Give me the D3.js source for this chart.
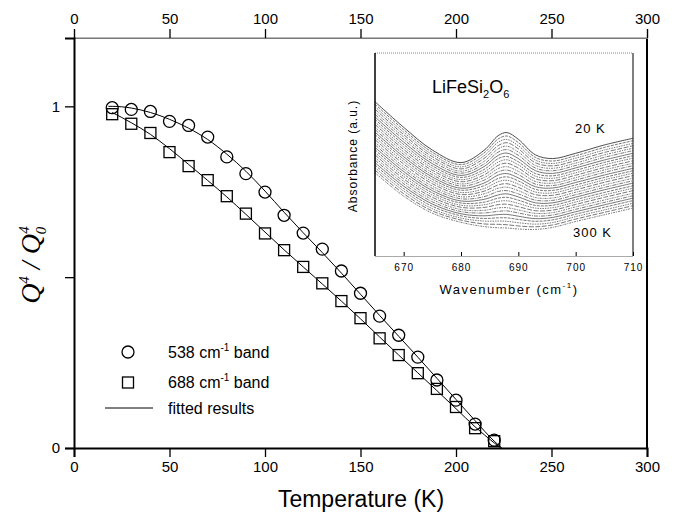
<!DOCTYPE html>
<html>
<head>
<meta charset="utf-8">
<script src="https://cdn.jsdelivr.net/npm/d3@7"></script>
<style>
  body { margin: 0; background: #fff; }
  text { font-family: "Liberation Sans", Arial, sans-serif; fill: #000; }
</style>
</head>
<body>
<svg id="chart" width="675" height="517"></svg>
<script>
// main panel data
const temps = [20, 30, 40, 50, 60, 70, 80, 90, 100, 110, 120, 130, 140, 150, 160, 170, 180, 190, 200, 210, 220];
const band538 = [0.996, 0.991, 0.985, 0.956, 0.944, 0.910, 0.852, 0.803, 0.749, 0.681, 0.629, 0.582, 0.518, 0.453, 0.386, 0.330, 0.266, 0.199, 0.140, 0.070, 0.023];
const band688 = [0.977, 0.949, 0.922, 0.866, 0.825, 0.784, 0.737, 0.686, 0.628, 0.579, 0.530, 0.482, 0.430, 0.380, 0.321, 0.272, 0.219, 0.173, 0.120, 0.058, 0.020];

const fitT538 = [18, 20, 30, 40, 50, 60, 70, 80, 90, 100, 110, 120, 130, 140, 150, 160, 170, 180, 190, 200, 210, 220, 224];
const fit538 = [1.0, 1.0, 0.995, 0.982, 0.962, 0.936, 0.903, 0.860, 0.810, 0.752, 0.690, 0.630, 0.572, 0.512, 0.450, 0.388, 0.327, 0.266, 0.204, 0.142, 0.080, 0.020, 0.0];
const fitT688 = [20, 30, 40, 50, 60, 70, 80, 90, 100, 110, 120, 130, 140, 150, 160, 170, 180, 190, 200, 210, 220, 223.5];
const fit688 = [0.982, 0.952, 0.918, 0.876, 0.830, 0.783, 0.735, 0.684, 0.632, 0.580, 0.530, 0.480, 0.430, 0.378, 0.325, 0.272, 0.220, 0.168, 0.115, 0.062, 0.015, 0.0];

const xMajor = [0, 50, 100, 150, 200, 250, 300];
const xMinor = [25, 75, 125, 175, 225, 275];
const yTicks = [0, 0.5, 1];
const yLabelled = [0, 1];

// inset: spectra from 20 K (top) to 300 K (bottom)
const wavenumbers = [665, 670, 675, 680, 684, 686.5, 688, 690, 693, 696, 700, 705, 710];
const specTemps = d3.range(20, 301, 10);
const absorbance = [
  [76.0, 63.4, 52.2, 46.0, 52.0, 59.3, 60.8, 57.5, 49.8, 48.0, 50.6, 54.7, 58.0],
  [74.8, 62.2, 51.1, 45.0, 50.7, 57.7, 59.1, 55.9, 48.5, 46.8, 49.4, 53.5, 56.8],
  [73.5, 61.0, 50.0, 43.9, 49.3, 56.1, 57.4, 54.3, 47.2, 45.6, 48.2, 52.2, 55.5],
  [72.3, 59.8, 48.9, 42.9, 48.0, 54.4, 55.8, 52.8, 45.9, 44.4, 47.0, 51.0, 54.3],
  [71.0, 58.6, 47.8, 41.8, 46.6, 52.8, 54.1, 51.2, 44.6, 43.2, 45.8, 49.8, 53.1],
  [69.8, 57.4, 46.7, 40.8, 45.3, 51.2, 52.4, 49.6, 43.3, 42.0, 44.6, 48.6, 51.9],
  [68.5, 56.1, 45.5, 39.7, 44.0, 49.6, 50.7, 48.0, 42.0, 40.7, 43.4, 47.3, 50.6],
  [67.3, 54.9, 44.4, 38.7, 42.6, 48.0, 49.0, 46.4, 40.6, 39.5, 42.2, 46.1, 49.4],
  [66.0, 53.7, 43.3, 37.6, 41.3, 46.3, 47.4, 44.9, 39.3, 38.3, 41.0, 44.9, 48.2],
  [64.8, 52.5, 42.2, 36.6, 39.9, 44.7, 45.7, 43.3, 38.0, 37.1, 39.8, 43.6, 46.9],
  [63.5, 51.3, 41.1, 35.5, 38.6, 43.1, 44.0, 41.7, 36.7, 35.9, 38.6, 42.4, 45.7],
  [62.3, 50.1, 40.0, 34.5, 37.3, 41.5, 42.3, 40.1, 35.4, 34.7, 37.4, 41.2, 44.5],
  [61.0, 48.9, 38.9, 33.4, 35.9, 39.9, 40.6, 38.5, 34.1, 33.5, 36.2, 39.9, 43.2],
  [59.8, 47.7, 37.8, 32.4, 34.6, 38.2, 39.0, 37.0, 32.8, 32.3, 35.0, 38.7, 42.0],
  [58.5, 46.5, 36.7, 31.3, 33.2, 36.6, 37.3, 35.4, 31.5, 31.1, 33.8, 37.5, 40.8],
  [57.3, 45.3, 35.6, 30.3, 31.9, 35.0, 35.6, 33.8, 30.2, 29.9, 32.6, 36.3, 39.6],
  [56.0, 44.0, 34.4, 29.2, 30.6, 33.4, 33.9, 32.2, 28.8, 28.6, 31.4, 35.0, 38.3],
  [54.8, 42.8, 33.3, 28.2, 29.2, 31.8, 32.2, 30.6, 27.5, 27.4, 30.2, 33.8, 37.1],
  [53.5, 41.6, 32.2, 27.1, 27.9, 30.1, 30.6, 29.1, 26.2, 26.2, 29.0, 32.6, 35.9],
  [52.3, 40.4, 31.1, 26.1, 26.5, 28.5, 28.9, 27.5, 24.9, 25.0, 27.8, 31.3, 34.6],
  [51.0, 39.2, 30.0, 25.0, 25.2, 26.9, 27.2, 25.9, 23.6, 23.8, 26.6, 30.1, 33.4],
  [49.8, 38.0, 28.9, 24.0, 23.9, 25.3, 25.5, 24.3, 22.3, 22.6, 25.4, 28.9, 32.2],
  [48.5, 36.8, 27.8, 22.9, 22.5, 23.7, 23.8, 22.7, 21.0, 21.4, 24.2, 27.6, 30.9],
  [47.3, 35.6, 26.7, 21.9, 21.2, 22.0, 22.2, 21.2, 19.7, 20.2, 23.0, 26.4, 29.7],
  [46.0, 34.4, 25.6, 20.8, 19.8, 20.4, 20.5, 19.6, 18.4, 19.0, 21.8, 25.2, 28.5],
  [44.8, 33.2, 24.5, 19.8, 18.5, 18.8, 18.8, 18.0, 17.1, 17.8, 20.6, 24.0, 27.3],
  [43.5, 32.0, 23.3, 18.7, 17.2, 17.2, 17.1, 16.4, 15.7, 16.5, 19.4, 22.7, 26.0],
  [42.3, 30.7, 22.2, 17.7, 15.8, 15.6, 15.4, 14.8, 14.4, 15.3, 18.2, 21.5, 24.8],
  [41.0, 29.5, 21.1, 16.6, 14.5, 13.9, 13.8, 13.3, 13.1, 14.1, 17.0, 20.3, 23.6]
];
const insetTicks = [670, 680, 690, 700, 710];
const insetMinor = [665, 675, 685, 695, 705];

const svg = d3.select("#chart");

const x = d3.scaleLinear().domain([0, 300]).range([74, 647]);
const y = d3.scaleLinear().domain([0, 1.2]).range([448, 38]);

// frame: top (thin grey) and right
svg.append("line").attr("x1", x(0)).attr("x2", x(300)).attr("y1", y(1.2)).attr("y2", y(1.2))
  .attr("stroke", "#777").attr("stroke-width", 1.2);
svg.append("line").attr("x1", x(300)).attr("x2", x(300)).attr("y1", y(1.2)).attr("y2", y(0))
  .attr("stroke", "#000").attr("stroke-width", 2);

// bottom axis
const gB = svg.append("g").attr("transform", `translate(0,${y(0)})`);
gB.call(d3.axisBottom(x).tickValues(xMinor).tickSize(5).tickFormat(""));
gB.call(d3.axisBottom(x).tickValues(xMajor).tickSize(9).tickPadding(4));
gB.select(".domain").attr("stroke-width", 2);
gB.selectAll("text").style("font-size", "15px");

// top axis
const gT = svg.append("g").attr("transform", `translate(0,${y(1.2)})`);
gT.call(d3.axisTop(x).tickValues(xMinor).tickSize(5).tickFormat(""));
gT.call(d3.axisTop(x).tickValues(xMajor).tickSize(9).tickPadding(5));
gT.select(".domain").attr("stroke", "#777").attr("stroke-width", 1.2);
gT.selectAll("text").style("font-size", "15px");

// left axis
const gL = svg.append("g").attr("transform", `translate(${x(0)},0)`);
gL.call(d3.axisLeft(y).tickValues(yTicks).tickSize(9).tickPadding(5)
  .tickFormat(d => yLabelled.includes(d) ? d3.format("d")(d) : ""));
gL.select(".domain").attr("stroke-width", 2);
gL.selectAll("text").style("font-size", "15px");

svg.selectAll(".tick line").attr("stroke-width", 1.3);

// axis titles
svg.append("text").attr("x", 361).attr("y", 507).attr("text-anchor", "middle")
  .style("font-size", "23px").text("Temperature (K)");

const yt = svg.append("text").attr("transform", "translate(40,265) rotate(-90)")
  .attr("text-anchor", "middle")
  .style("font-family", "'Liberation Serif', 'DejaVu Serif', serif")
  .style("font-style", "italic").style("font-size", "28px");
yt.append("tspan").text("Q");
yt.append("tspan").attr("dy", -11).style("font-size", "15px").text("4");
yt.append("tspan").attr("dy", 11).text(" / Q");
yt.append("tspan").attr("dy", 6).style("font-size", "15px").text("0");
yt.append("tspan").attr("dx", -7).attr("dy", -17).style("font-size", "15px").text("4");

// fitted curves
const line = d3.line().x(d => x(d[0])).y(d => y(d[1])).curve(d3.curveMonotoneX);
svg.append("path").datum(d3.zip(fitT538, fit538)).attr("d", line)
  .attr("fill", "none").attr("stroke", "#000").attr("stroke-width", 1);
svg.append("path").datum(d3.zip(fitT688, fit688)).attr("d", line)
  .attr("fill", "none").attr("stroke", "#000").attr("stroke-width", 1);

// markers
svg.append("g").selectAll("circle").data(d3.zip(temps, band538)).join("circle")
  .attr("cx", d => x(d[0])).attr("cy", d => y(d[1])).attr("r", 6)
  .attr("fill", "none").attr("stroke", "#000").attr("stroke-width", 1.3);
svg.append("g").selectAll("rect").data(d3.zip(temps, band688)).join("rect")
  .attr("x", d => x(d[0]) - 5.5).attr("y", d => y(d[1]) - 5.5)
  .attr("width", 11).attr("height", 11)
  .attr("fill", "none").attr("stroke", "#000").attr("stroke-width", 1.3);

// legend
const lg = svg.append("g");
lg.append("circle").attr("cx", 128).attr("cy", 352).attr("r", 6)
  .attr("fill", "none").attr("stroke", "#000").attr("stroke-width", 1.3);
lg.append("rect").attr("x", 122.5).attr("y", 377).attr("width", 11).attr("height", 11)
  .attr("fill", "none").attr("stroke", "#000").attr("stroke-width", 1.3);
lg.append("line").attr("x1", 105).attr("x2", 153).attr("y1", 408).attr("y2", 408)
  .attr("stroke", "#000").attr("stroke-width", 1);
const legendText = [["538 cm", "-1", " band", 357.5], ["688 cm", "-1", " band", 388], ["fitted results", "", "", 413.5]];
legendText.forEach(([a, s, b, yy]) => {
  const t = lg.append("text").attr("x", 168).attr("y", yy).style("font-size", "16px");
  t.append("tspan").text(a);
  if (s) {
    t.append("tspan").attr("dy", -7).style("font-size", "10px").text(s);
    t.append("tspan").attr("dy", 7).text(b);
  }
});

// ----- inset -----
const xi = d3.scaleLinear().domain([665, 710]).range([375, 633]);
const yi = d3.scaleLinear().domain([0, 100]).range([256, 53]);

svg.append("rect").attr("x", 375).attr("y", 53).attr("width", 258).attr("height", 203).attr("fill", "#fff");
svg.append("clipPath").attr("id", "insetClip").append("rect")
  .attr("x", 375).attr("y", 53).attr("width", 258).attr("height", 203);

const dashes = ["", "3,1", "1.5,1", "5,1.5", "2,1,1,1", "4,1,1,1"];
const sline = d3.line().x((d, i) => xi(wavenumbers[i])).y(d => yi(d)).curve(d3.curveCatmullRom);
svg.append("g").attr("clip-path", "url(#insetClip)")
  .selectAll("path").data(absorbance).join("path")
  .attr("d", sline).attr("fill", "none")
  .attr("stroke", (d, i) => i === 0 ? "#222" : "#555")
  .attr("stroke-width", 0.8)
  .attr("stroke-dasharray", (d, i) => dashes[i % dashes.length]);

// inset frame
svg.append("line").attr("x1", 375).attr("x2", 633).attr("y1", 53).attr("y2", 53)
  .attr("stroke", "#888").attr("stroke-width", 1).attr("stroke-dasharray", "1,1");
svg.append("line").attr("x1", 633).attr("x2", 633).attr("y1", 53).attr("y2", 256)
  .attr("stroke", "#000").attr("stroke-width", 1);
svg.append("line").attr("x1", 375).attr("x2", 375).attr("y1", 53).attr("y2", 256)
  .attr("stroke", "#000").attr("stroke-width", 1.5);

const gi = svg.append("g").attr("transform", "translate(0,256)");
gi.call(d3.axisBottom(xi).tickValues(insetMinor).tickSizeInner(-2).tickSizeOuter(0).tickFormat(""));
gi.call(d3.axisBottom(xi).tickValues(insetTicks).tickSizeInner(-4).tickSizeOuter(0).tickPadding(8));
gi.select(".domain").attr("stroke", "#555").attr("stroke-dasharray", "1,1");
gi.selectAll("text").style("font-size", "10px").style("letter-spacing", "1px");

svg.append("text").attr("x", 509).attr("y", 294).attr("text-anchor", "middle")
  .style("font-size", "13px").style("letter-spacing", "1.5px")
  .call(t => {
    t.append("tspan").text("Wavenumber  (cm");
    t.append("tspan").attr("dy", -6).style("font-size", "8px").text("-1");
    t.append("tspan").attr("dy", 6).text(")");
  });

svg.append("text").attr("transform", "translate(357,156) rotate(-90)").attr("text-anchor", "middle")
  .style("font-size", "12px").style("letter-spacing", "1px").text("Absorbance (a.u.)");

const chem = svg.append("text").attr("x", 432).attr("y", 93).style("font-size", "18px");
chem.append("tspan").text("LiFeSi");
chem.append("tspan").attr("dy", 5).style("font-size", "11px").text("2");
chem.append("tspan").attr("dy", -5).text("O");
chem.append("tspan").attr("dy", 5).style("font-size", "11px").text("6");

svg.append("text").attr("x", 575).attr("y", 133).style("font-size", "13px").style("letter-spacing", "1px").text("20 K");
svg.append("text").attr("x", 573).attr("y", 237).style("font-size", "13px").style("letter-spacing", "1px").text("300 K");
</script>
</body>
</html>
